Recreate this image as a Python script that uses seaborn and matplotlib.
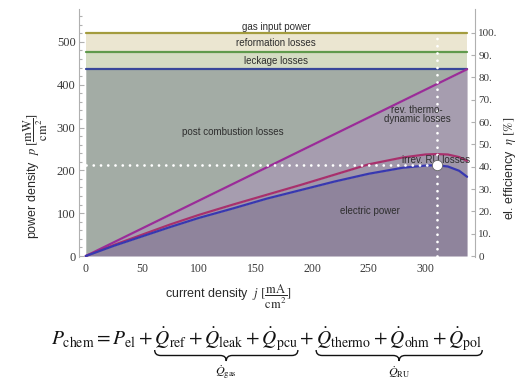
import numpy as np
import pandas as pd
import matplotlib
matplotlib.use("Agg")
import matplotlib.pyplot as plt
import seaborn as sns
from matplotlib.path import Path
from matplotlib.patches import PathPatch
from matplotlib.ticker import MultipleLocator

# ---------------- data ----------------
j_vals = [0, 25, 50, 75, 100, 130, 160, 190, 220, 250, 280, 300, 310, 320, 330, 337]
p_irrev = [0, 26, 50, 74, 96, 120, 143, 166, 190, 214, 230, 237, 238, 237, 231, 222]
p_el = [0, 24, 46, 68, 89, 111, 134, 154, 174, 192, 206, 211, 212, 209, 199, 185]
j_range = [0, 337]
p_rev_line = [0, 436]
P_GAS = 521
P_REF = 476
P_LEAK = 436
j_op = 310
p_op = 212
p_ticks = [0, 100, 200, 300, 400, 500]
j_ticks = [0, 50, 100, 150, 200, 250, 300]
eff_ticks = [0, 10, 20, 30, 40, 50, 60, 70, 80, 90, 100]
eff_labels = ["0", "10.", "20.", "30.", "40.", "50.", "60.", "70.", "80.", "90.", "100."]

region_labels = ["gas input power", "reformation losses", "leckage losses",
                 "post combustion losses", "rev. thermo-\ndynamic losses",
                 "irrev. RU losses", "electric power"]
region_j = [168, 168, 168, 130, 293, 310, 251]
region_p = [535, 498, 455, 290, 330, 224, 105]

# ---------------- style ----------------
sns.set_theme(style="white")
plt.rcParams["font.family"] = ["Liberation Sans", "DejaVu Sans"]
plt.rcParams["mathtext.fontset"] = "stix"

W, H = 520, 383
fig = plt.figure(figsize=(5.2, 3.83), dpi=100)
ax = fig.add_axes([79 / W, 0.3282, 396 / W, 0.6475])
ax.set_xlim(-6, 344)
ax.set_ylim(-3, 576)

df = pd.DataFrame({"j": j_vals, "irrev": p_irrev, "el": p_el})
line_at_j = np.interp(j_vals, j_range, p_rev_line)

c_gas_band = "#ebe6d1"
c_leak_band = "#d5dcc3"
c_pcu = "#a3aca5"
c_rev = "#a69daf"
c_irr = "#a097aa"
c_el = "#8f849c"

ax.fill_between(j_range, [P_REF] * 2, [P_GAS] * 2, color=c_gas_band, lw=0)
ax.fill_between(j_range, [P_LEAK] * 2, [P_REF] * 2, color=c_leak_band, lw=0)
ax.fill_between(j_vals, line_at_j, [P_LEAK] * len(j_vals), color=c_pcu, lw=0)
ax.fill_between(j_vals, p_irrev, line_at_j, color=c_rev, lw=0)
ax.fill_between(j_vals, p_el, p_irrev, color=c_irr, lw=0)
ax.fill_between(j_vals, 0, p_el, color=c_el, lw=0)

lw = 1.6
sns.lineplot(x=j_range, y=[P_GAS] * 2, color="#a39c3e", lw=lw, ax=ax)
sns.lineplot(x=j_range, y=[P_REF] * 2, color="#5f9a4c", lw=lw, ax=ax)
sns.lineplot(x=j_range, y=[P_LEAK] * 2, color="#38489a", lw=lw, ax=ax)
sns.lineplot(x=j_range, y=p_rev_line, color="#9a2c98", lw=lw, ax=ax)
sns.lineplot(data=df, x="j", y="irrev", color="#a8306c", lw=lw, ax=ax)
sns.lineplot(data=df, x="j", y="el", color="#3838b0", lw=lw, ax=ax)

dot_style = dict(color="white", lw=2.0, linestyle=(0, (0.01, 2.6)),
                 dash_capstyle="round", zorder=4)
ax.plot([0, j_op], [p_op, p_op], **dot_style)
ax.plot([j_op, j_op], [0, P_GAS], **dot_style)
ax.scatter([j_op], [p_op], s=55, c="white", edgecolors="#666666",
           linewidths=0.6, zorder=7)

for lab, xj, yp in zip(region_labels, region_j, region_p):
    ax.text(xj, yp, lab, ha="center", va="center", fontsize=7,
            color="#2e2e2e", zorder=5, linespacing=0.85)

ax.set_xlabel("")
ax.set_ylabel("")
for s in ["top", "right", "bottom"]:
    ax.spines[s].set_visible(False)
ax.spines["left"].set_color("#b0b0b0")
ax.spines["left"].set_linewidth(0.8)
ax.set_yticks(p_ticks)
ax.set_yticklabels([str(v) for v in p_ticks], fontfamily="Liberation Serif",
                   fontsize=9, color="#3a3a3a")
ax.yaxis.set_minor_locator(MultipleLocator(20))
ax.tick_params(axis="y", which="both", left=True, direction="in",
               color="#b0b0b0", width=0.8, pad=2.5)
ax.tick_params(axis="y", which="major", length=3.5)
ax.tick_params(axis="y", which="minor", length=2)
ax.set_xticks(j_ticks)
ax.set_xticklabels([str(v) for v in j_ticks], fontfamily="Liberation Serif",
                   fontsize=8.5, color="#3a3a3a")
ax.tick_params(axis="x", length=0, pad=4)

ax2 = ax.twinx()
ax2.set_ylim(-3 / P_GAS * 100, 576 / P_GAS * 100)
ax2.set_yticks(eff_ticks)
ax2.set_yticklabels(eff_labels, fontfamily="Liberation Serif", fontsize=8,
                    color="#3a3a3a")
for s in ["top", "left", "bottom"]:
    ax2.spines[s].set_visible(False)
ax2.spines["right"].set_color("#b0b0b0")
ax2.spines["right"].set_linewidth(0.8)
ax2.tick_params(axis="y", right=True, direction="in", length=3,
                color="#b0b0b0", width=0.8, pad=2.5)
ax2.grid(False)
ax.grid(False)

# axis labels
fig.text(36 / W, 1 - 176 / H,
         r"power density  $p\ [\dfrac{\mathrm{mW}}{\mathrm{cm}^2}]$",
         rotation=90, ha="center", va="center", fontsize=9, color="#2a2a2a")
fig.text(228 / W, 1 - 297 / H,
         r"current density  $j\ [\dfrac{\mathrm{mA}}{\mathrm{cm}^2}]$",
         ha="center", va="center", fontsize=9, color="#2a2a2a")
fig.text(510 / W, 1 - 168 / H, r"el. efficiency  $\eta\ [\%]$",
         rotation=90, ha="center", va="center", fontsize=9, color="#2a2a2a")

# ---------------- equation with underbraces ----------------
fig.canvas.draw()
renderer = fig.canvas.get_renderer()

pre = r"P_{\rm chem}=P_{\rm el}+"
qref = r"\dot{Q}_{\rm ref}"
qleak = r"\dot{Q}_{\rm leak}"
qpcu = r"\dot{Q}_{\rm pcu}"
qth = r"\dot{Q}_{\rm thermo}"
qohm = r"\dot{Q}_{\rm ohm}"
qpol = r"\dot{Q}_{\rm pol}"
full = pre + qref + "+" + qleak + "+" + qpcu + "+" + qth + "+" + qohm + "+" + qpol


def width(s, fs):
    t = fig.text(0, 0, "$" + s + "$", fontsize=fs)
    w = t.get_window_extent(renderer).width
    t.remove()
    return w


x_eq = 51
x_end = 482
fs = 12
fs = fs * (x_end - x_eq) / width(full, fs)
fig.text(x_eq / W, 1 - 345 / H, "$" + full + "$", fontsize=fs, ha="left",
         va="baseline", color="#111111")

s1 = x_eq + width(pre + qref, fs) - width(qref, fs)
e1 = x_eq + width(pre + qref + "+" + qleak + "+" + qpcu, fs)
s2 = x_eq + width(pre + qref + "+" + qleak + "+" + qpcu + "+" + qth, fs) - width(qth, fs)
e2 = x_eq + width(full, fs)


def brace(x0, x1, ytop, ytip):
    xm = 0.5 * (x0 + x1)
    h = ytip - ytop
    hh = h / 2
    r = 6
    pts = [(x0, ytop), (x0, ytop + hh), (x0 + r, ytop + hh),
           (xm - r, ytop + hh), (xm, ytop + hh), (xm, ytip),
           (xm, ytop + hh), (xm + r, ytop + hh),
           (x1 - r, ytop + hh), (x1, ytop + hh), (x1, ytop)]
    codes = [Path.MOVETO, Path.CURVE3, Path.CURVE3, Path.LINETO,
             Path.CURVE3, Path.CURVE3, Path.CURVE3, Path.CURVE3,
             Path.LINETO, Path.CURVE3, Path.CURVE3]
    verts = [(x / W, 1 - y / H) for x, y in pts]
    patch = PathPatch(Path(verts, codes), transform=fig.transFigure,
                      fill=False, lw=1.0, edgecolor="#111111")
    fig.add_artist(patch)
    return xm


m1 = brace(s1, e1, 350, 361)
m2 = brace(s2, e2, 350, 361)
fig.text(m1 / W, 1 - 372 / H, r"$\dot{Q}_{\rm gas}$", ha="center", va="center",
         fontsize=fs * 0.62, color="#111111")
fig.text(m2 / W, 1 - 372 / H, r"$\dot{Q}_{\rm RU}$", ha="center", va="center",
         fontsize=fs * 0.62, color="#111111")

fig.savefig("out.png", dpi=100)
